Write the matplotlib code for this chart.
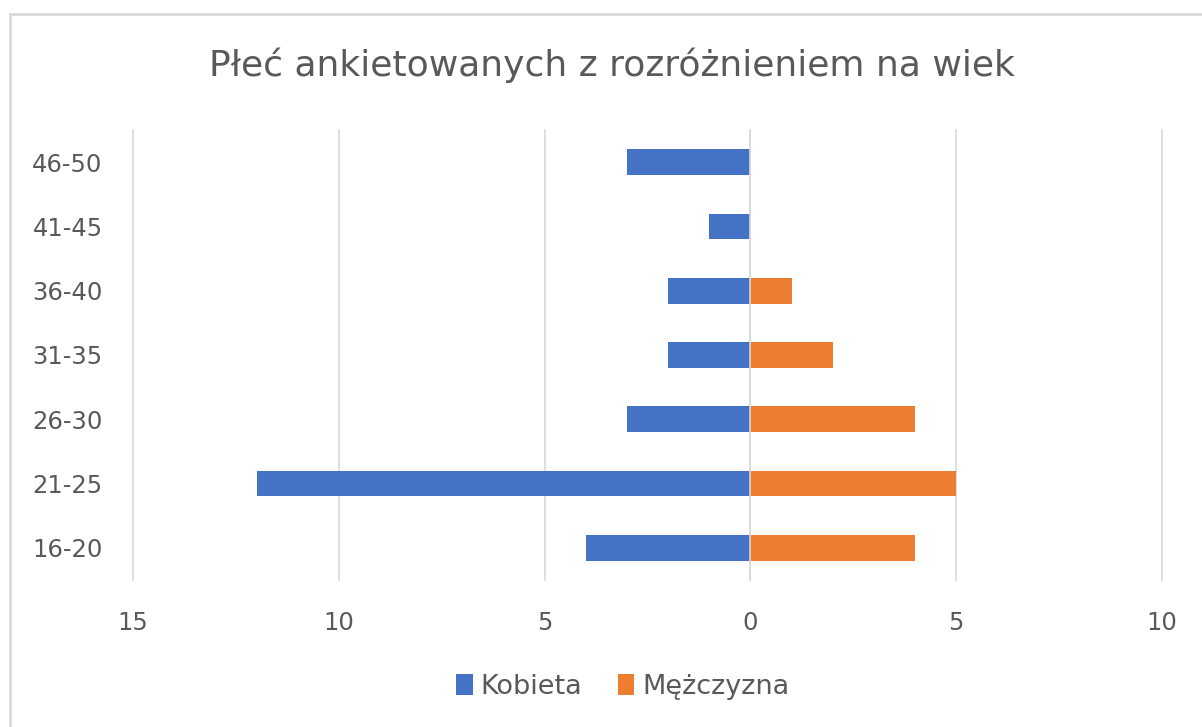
import matplotlib.pyplot as plt
from matplotlib.ticker import FuncFormatter
from matplotlib.patches import Rectangle
import numpy as np

age_groups = ['16-20', '21-25', '26-30', '31-35', '36-40', '41-45', '46-50']
kobieta = [4, 12, 3, 2, 2, 1, 3]
mezczyzna = [4, 5, 4, 2, 1, 0, 0]
x_ticks = [-15, -10, -5, 0, 5, 10]

blue = '#4472C4'
orange = '#ED7D31'
txt = '#595959'
grid = '#D9D9D9'

plt.rcParams['font.family'] = ['DejaVu Sans']

fig = plt.figure(figsize=(12.02, 7.27), dpi=100)
ax = fig.add_axes([0.1107, 0.2022, 0.8560, 0.6190])

# frame of the chart area
fig.patches.append(Rectangle((10 / 1202, -0.01), 1.1, 1 - 14 / 727 + 0.01,
                             transform=fig.transFigure, fill=False,
                             edgecolor='#D9D9D9', linewidth=2))

y = np.arange(len(age_groups))
ax.barh(y, -np.array(kobieta), height=0.4, color=blue, label='Kobieta', zorder=3)
ax.barh(y, mezczyzna, height=0.4, color=orange, label='Mężczyzna', zorder=3)

ax.set_xlim(-15, 10)
ax.set_ylim(-0.5, 6.5)
ax.set_xticks(x_ticks)
ax.xaxis.set_major_formatter(FuncFormatter(lambda v, p: '%d' % abs(v)))
ax.set_yticks(y)
ax.set_yticklabels(age_groups)
ax.grid(axis='x', color=grid, linewidth=1.2, zorder=0)
for gl in ax.get_xgridlines():
    gl.set_clip_on(False)
ax.axvline(0, color=grid, linewidth=1.2, zorder=4)
for s in ax.spines.values():
    s.set_visible(False)
ax.tick_params(length=0, labelsize=17.5, colors=txt)
ax.tick_params(axis='y', pad=22)
ax.tick_params(axis='x', pad=22)

fig.text(0.509, 0.91, 'Płeć ankietowanych z rozróżnieniem na wiek', ha='center', va='center',
         fontsize=26, color=txt)

ax.legend(loc='center', bbox_to_anchor=(0.476, -0.238), ncol=2, frameon=False,
          fontsize=19.5, labelcolor=txt, handlelength=0.6, handleheight=0.8,
          handletextpad=0.3, columnspacing=1.3)

fig.savefig('out.png', dpi=100, facecolor='white')
